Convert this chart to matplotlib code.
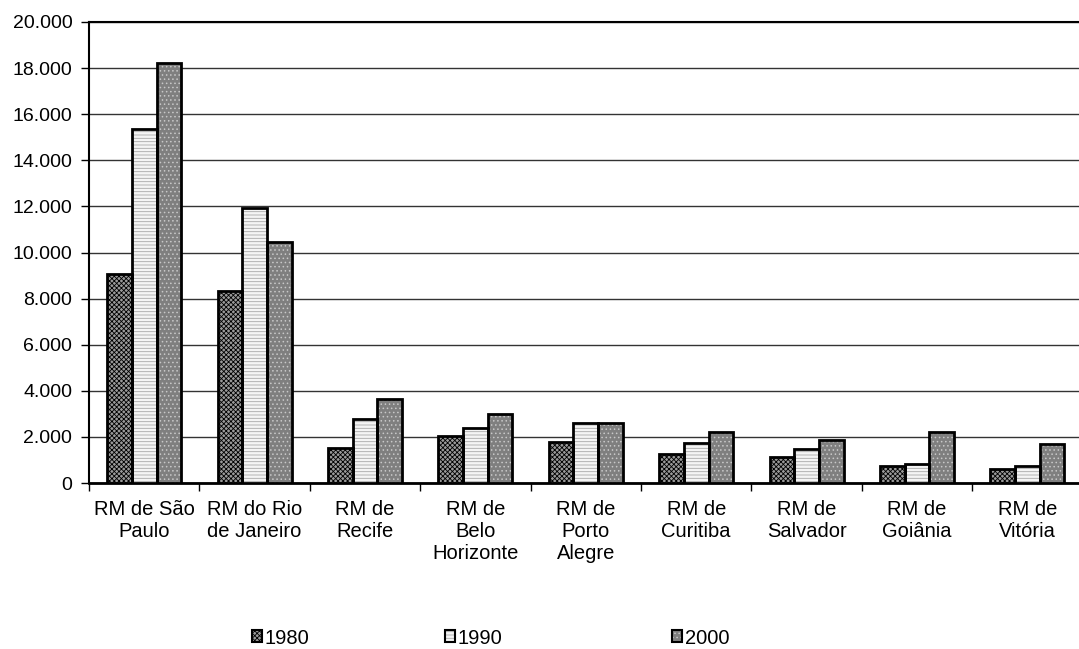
import matplotlib.pyplot as plt
from matplotlib.patches import Patch
from matplotlib.ticker import FuncFormatter
import numpy as np

plt.rcParams['font.family'] = ['Liberation Sans', 'DejaVu Sans']
plt.rcParams['hatch.linewidth'] = 0.6

# data
regions = ["RM de São\nPaulo", "RM do Rio\nde Janeiro", "RM de\nRecife",
           "RM de\nBelo\nHorizonte", "RM de\nPorto\nAlegre", "RM de\nCuritiba",
           "RM de\nSalvador", "RM de\nGoiânia", "RM de\nVitória"]
years = ["1980", "1990", "2000"]
v1980 = [9050, 8330, 1500, 2040, 1780, 1240, 1130, 750, 610]
v1990 = [15350, 11940, 2780, 2400, 2620, 1750, 1460, 810, 720]
v2000 = [18230, 10470, 3640, 3000, 2600, 2210, 1880, 2210, 1710]

# (facecolor, hatch, hatch colour) per series
styles = [("#9a9a9a", "xxxxxxx", "black"),
          ("#f4f4f4", "-----", "#a8a8a8"),
          ("#7f7f7f", "....", "#c8c8c8")]

W, H = 1079, 649
fig = plt.figure(figsize=(W / 100, H / 100), dpi=100)
ax = fig.add_axes([89 / W, (H - 483) / H, 993.6 / W, 461 / H])

x = np.arange(len(regions))
bw = 0.224
handles = []
for i, vals in enumerate([v1980, v1990, v2000]):
    fc, hatch, hc = styles[i]
    pos = x + (i - 1) * bw
    # fill + hatch layer, then black outline on top
    ax.bar(pos, vals, bw, facecolor=fc, hatch=hatch, edgecolor=hc,
           linewidth=0, zorder=3)
    ax.bar(pos, vals, bw, facecolor="none", edgecolor="black",
           linewidth=2, zorder=4)
    handles.append((Patch(facecolor=fc, hatch=hatch, edgecolor=hc, linewidth=0),
                    Patch(facecolor="none", edgecolor="black", linewidth=1.5)))

ax.set_xlim(-0.5, len(regions) - 0.5)
ax.set_ylim(0, 20000)
ax.set_yticks(np.arange(0, 20001, 2000))
ax.yaxis.set_major_formatter(FuncFormatter(lambda v, p: f"{int(v):,}".replace(",", ".")))
ax.grid(axis="y", color="#333333", linewidth=1, zorder=0)
ax.set_axisbelow(True)

ax.set_xticks(x)
ax.set_xticklabels(regions, fontsize=14.5, linespacing=1.22)
ax.set_xticks(np.arange(-0.5, len(regions)), minor=True)
ax.tick_params(axis="x", which="major", length=0, pad=12)
ax.tick_params(axis="x", which="minor", length=6, width=1, direction="out")
ax.tick_params(axis="y", length=6, width=1, direction="out", labelsize=14, pad=6)

ax.spines["right"].set_visible(False)
ax.spines["top"].set_linewidth(1.5)
ax.spines["left"].set_linewidth(1.5)
ax.spines["bottom"].set_linewidth(2)

# legend entries, spread out like the original
for h, lab, xpx in zip(handles, years, [252, 445, 672]):
    fig.legend([h], [lab], loc="center left", bbox_to_anchor=(xpx / W, 1 - 638 / H),
               frameon=False, fontsize=14.5, handlelength=0.52, handleheight=0.52,
               handletextpad=0.12, borderpad=0, borderaxespad=0)

fig.savefig("out.png", dpi=100)
